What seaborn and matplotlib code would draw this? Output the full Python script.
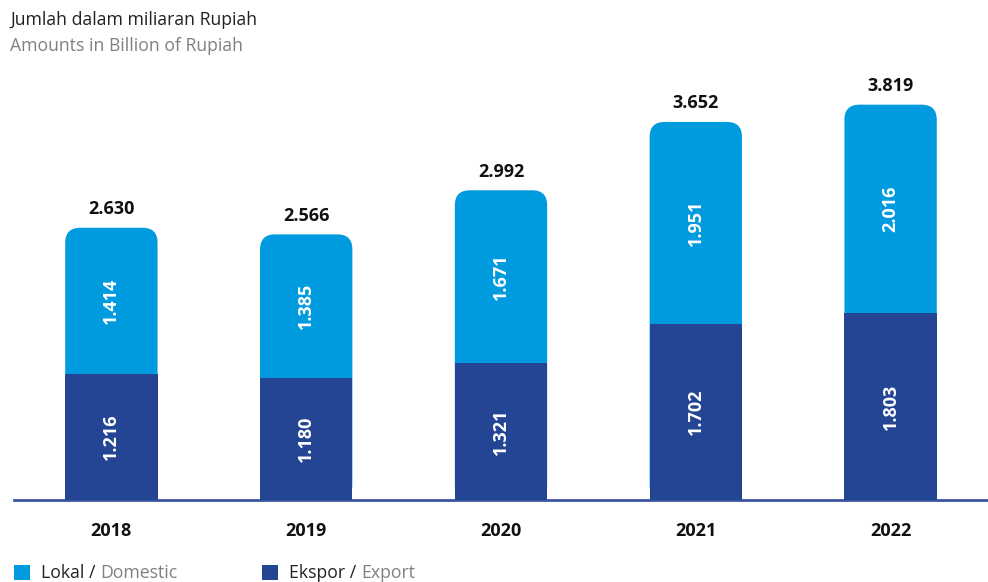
import matplotlib
matplotlib.use("Agg")
import matplotlib.pyplot as plt
from matplotlib.patches import FancyBboxPatch, Rectangle
import seaborn as sns
import pandas as pd

# Values in billions of Rupiah
years = ["2018", "2019", "2020", "2021", "2022"]
domestic = [1414, 1385, 1671, 1951, 2016]
export = [1216, 1180, 1321, 1702, 1803]
totals = [2630, 2566, 2992, 3652, 3819]

title_id = "Jumlah dalam miliaran Rupiah"
title_en = "Amounts in Billion of Rupiah"
legend_items = [("Lokal / ", "Domestic"), ("Ekspor / ", "Export")]

c_dom = "#009BDF"
c_exp = "#234594"
c_axis = "#3A55A4"
c_dark = "#111111"
c_gray = "#808080"

sns.set_theme(style="white")
plt.rcParams["font.family"] = ["Open Sans", "DejaVu Sans"]

df = pd.DataFrame({"year": years, "domestic": domestic,
                   "export": export, "total": totals})

fig = plt.figure(figsize=(9.88, 5.82), dpi=100)
ax = fig.add_axes([14 / 988, 82 / 582, 974 / 988, 500 / 582])

bar_w = 0.474
sns.barplot(data=df, x="year", y="total", color=c_dom, width=bar_w,
            saturation=1, linewidth=0, ax=ax, zorder=2)
ax.set_xlim(-0.505, 4.51)
ax.set_ylim(0, 4830)

# Rounded tops for the stacked columns
fig.canvas.draw()
p0 = ax.transData.transform((0, 0))
p1 = ax.transData.transform((1, 1))
aspect = (p1[0] - p0[0]) / (p1[1] - p0[1])
radius = 15 / (p1[0] - p0[0])
for patch in list(ax.patches):
    x, w, h = patch.get_x(), patch.get_width(), patch.get_height()
    patch.remove()
    ax.add_patch(FancyBboxPatch((x, 0), w, h,
                                boxstyle=f"round,pad=0,rounding_size={radius}",
                                mutation_aspect=aspect, facecolor=c_dom,
                                edgecolor="none", linewidth=0, zorder=2))

sns.barplot(data=df, x="year", y="export", color=c_exp, width=bar_w,
            saturation=1, linewidth=0, edgecolor="none", ax=ax, zorder=3)


def fmt(v):
    return f"{v:,}".replace(",", ".")


for i, (d, e, t) in enumerate(zip(domestic, export, totals)):
    ax.text(i, e / 2, fmt(e), rotation=90, ha="center", va="center",
            color="white", fontsize=13, fontweight="bold", zorder=4)
    ax.text(i, e + (t - e) / 2, fmt(d), rotation=90, ha="center",
            va="center", color="white", fontsize=13, fontweight="bold",
            zorder=4)
    ax.annotate(fmt(t), (i, t), xytext=(0, 7), textcoords="offset points",
                ha="center", va="bottom", color=c_dark, fontsize=13,
                fontweight="bold")

sns.despine(ax=ax, left=True, top=True, right=True, bottom=False)
ax.spines["bottom"].set_color(c_axis)
ax.spines["bottom"].set_linewidth(2)
ax.set_yticks([])
ax.set_xlabel("")
ax.set_ylabel("")
ax.tick_params(axis="x", length=0, pad=16, labelsize=13,
               labelcolor=c_dark)
for lbl in ax.get_xticklabels():
    lbl.set_fontweight("bold")
ax.patch.set_alpha(0)

# Header
fig.text(10 / 988, 1 - 25 / 582, title_id, fontsize=12.7, color="#222222",
         va="baseline", ha="left")
fig.text(10 / 988, 1 - 51 / 582, title_en, fontsize=12.7, color=c_gray,
         va="baseline", ha="left")

# Legend
for (x0, color), (dark, light) in zip([(14, c_dom), (262, c_exp)],
                                      legend_items):
    fig.patches.append(Rectangle((x0 / 988, 1 - 580 / 582), 16 / 988,
                                 15 / 582, transform=fig.transFigure,
                                 facecolor=color, edgecolor="none"))
    t1 = fig.text((x0 + 27) / 988, 1 - 578 / 582, dark, fontsize=12.7,
                  color="#222222", va="baseline", ha="left")
    fig.canvas.draw()
    bb = t1.get_window_extent()
    fig.text(bb.x1 / 988, 1 - 578 / 582, light, fontsize=12.7,
             color=c_gray, va="baseline", ha="left")

fig.savefig("out.png", dpi=100)
